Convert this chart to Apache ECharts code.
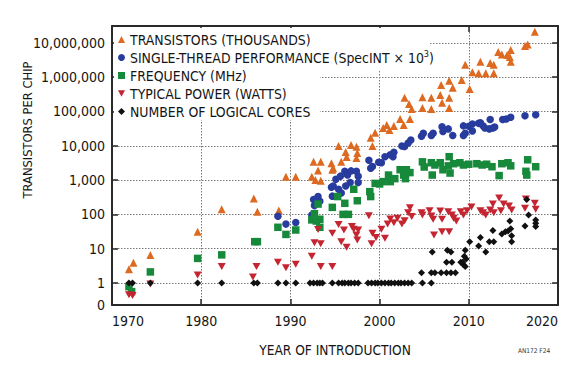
<!DOCTYPE html>
<html><head><meta charset="utf-8">
<script src="https://cdn.jsdelivr.net/npm/echarts@6/dist/echarts.min.js"></script>
<style>html,body{margin:0;padding:0;background:#fff}#c{width:575px;height:372px}</style>
</head><body><div id="c"></div>
<script>
const FONT = "'DejaVu Sans Condensed','Liberation Sans',sans-serif";
const xTicks = [1970, 1980, 1990, 2000, 2010, 2020];
const yTicks = [1, 10, 100, 1000, 10000, 100000, 1000000, 10000000];
const yMin = 0.228, yMax = 3.1e7;
const seriesNames = ['TRANSISTORS (THOUSANDS)', 'SINGLE-THREAD PERFORMANCE (SpecINT × 10³)', 'FREQUENCY (MHz)', 'TYPICAL POWER (WATTS)', 'NUMBER OF LOGICAL CORES'];

const transistors = [[1971.9,2.5],[1972.4,3.9],[1974.3,6.5],[1979.6,31],[1982.3,140],[1985.9,290],[1986.3,120],[1988.7,130],[1989.5,1250],[1990.6,1250],[1992.4,1250],[1992.6,3400],[1993.4,3400],[1993.1,1900],[1992.8,1000],[1993.4,950],[1994.6,3100],[1994.7,2000],[1994.8,2200],[1995.7,3400],[1996.3,4700],[1997.4,4400],[1995.4,9800],[1996.8,10500],[1996.2,6600],[1997.4,9300],[1997.5,6200],[1999.2,9800],[1999.0,17000],[1999.5,24000],[2000.4,33000],[2000.8,40000],[2001.1,29000],[2001.6,38000],[2002.3,60000],[2002.7,40000],[2003.4,60000],[2002.8,250000],[2003.3,165000],[2003.6,117000],[2004.8,260000],[2004.8,126000],[2005.8,250000],[2005.8,117000],[2006.9,590000],[2006.8,300000],[2007.0,180000],[2007.8,780000],[2007.8,250000],[2007.8,126000],[2008.2,490000],[2009.2,830000],[2010.1,450000],[2009.6,2300000],[2010.4,1400000],[2011.3,2800000],[2011.1,1300000],[2011.9,1300000],[2012.4,2600000],[2012.8,1300000],[2012.8,2300000],[2013.3,5400000],[2013.7,4600000],[2014.3,4400000],[2014.7,6200000],[2014.6,3900000],[2014.7,2800000],[2016.3,8100000],[2016.6,9000000],[2017.4,21000000]];

const singleThread = [[1988.6,88],[1989.5,52],[1990.6,58],[1992.4,96],[1992.7,180],[1992.6,270],[1993.1,330],[1993.3,240],[1993.0,290],[1994.6,620],[1994.7,340],[1994.8,670],[1995.7,420],[1995.4,540],[1995.1,1050],[1995.6,1300],[1996.1,1800],[1996.4,1400],[1996.8,1850],[1997.4,1800],[1997.6,1300],[1997.6,850],[1996.7,850],[1996.2,670],[1998.8,3800],[1999.2,2500],[1999.0,2200],[1999.9,3300],[2000.2,3200],[2000.6,4800],[2001.2,5500],[2001.6,6500],[2001.5,4800],[2002.5,9800],[2002.8,9500],[2003.2,12000],[2003.5,14700],[2004.7,19000],[2004.9,23000],[2005.8,20000],[2006.0,23000],[2007.0,36000],[2007.1,26000],[2007.7,31000],[2008.2,20000],[2009.4,38000],[2009.4,20000],[2009.6,23000],[2010.0,37000],[2010.4,43000],[2010.4,27000],[2011.3,47000],[2011.1,45000],[2011.6,38000],[2011.8,33000],[2012.3,31000],[2012.7,33000],[2012.9,35000],[2012.4,58000],[2013.8,58000],[2014.2,60000],[2014.7,68000],[2016.3,75000],[2017.5,80000]];

const frequency = [[1971.9,0.78],[1972.2,0.56],[1974.3,2.1],[1979.6,5.2],[1982.3,6.6],[1986.0,16],[1986.3,16],[1988.6,42],[1989.5,26],[1990.6,35],[1992.4,69],[1992.7,105],[1992.9,64],[1993.3,72],[1993.3,42],[1993.1,200],[1994.7,160],[1995.3,330],[1996.1,210],[1995.9,100],[1996.5,100],[1997.1,540],[1997.5,250],[1998.9,460],[1999.0,330],[1999.5,800],[2000.0,770],[2000.4,900],[2001.0,1400],[2001.2,900],[2001.7,1100],[2002.3,2000],[2002.7,1400],[2003.0,2000],[2002.9,1100],[2003.4,1650],[2004.8,3400],[2005.0,2400],[2005.9,1400],[2005.8,3200],[2006.2,2750],[2006.8,3200],[2007.1,2000],[2007.8,4800],[2007.7,2600],[2007.9,1600],[2008.3,3000],[2009.0,3200],[2009.4,2750],[2010.0,2900],[2010.9,3000],[2011.5,2750],[2012.0,2900],[2012.6,2450],[2013.4,1350],[2013.7,3000],[2014.4,3200],[2014.7,2600],[2016.6,3900],[2016.4,1800],[2016.5,1400],[2017.5,2450]];

const power = [[1971.9,0.45],[1972.3,0.43],[1974.3,0.93],[1979.6,1.7],[1982.3,3.0],[1985.8,1.5],[1986.2,3.0],[1988.6,4.0],[1989.5,2.8],[1990.6,3.5],[1992.4,6.0],[1992.7,15],[1993.4,14],[1993.1,36],[1993.4,3.0],[1994.7,3.0],[1994.7,28],[1995.4,51],[1995.7,16],[1996.0,35],[1996.3,11],[1996.9,44],[1997.1,37],[1997.6,35],[1997.5,18],[1997.4,25],[1998.8,91],[1999.2,28],[1999.1,14],[1999.6,21],[2000.2,37],[2000.6,20],[2000.9,52],[2001.2,73],[2001.6,57],[2002.0,77],[2002.5,52],[2002.8,65],[2003.2,112],[2003.4,156],[2003.6,86],[2004.7,112],[2004.8,96],[2005.6,128],[2005.8,90],[2006.0,72],[2006.1,25],[2006.8,125],[2007.0,72],[2007.0,31],[2007.8,31],[2007.7,120],[2008.1,96],[2008.3,77],[2008.6,64],[2009.1,120],[2009.4,96],[2009.8,128],[2010.3,165],[2011.3,128],[2011.6,112],[2011.9,96],[2012.4,135],[2012.7,200],[2012.8,112],[2013.4,300],[2013.6,128],[2013.9,200],[2014.5,175],[2014.8,135],[2016.4,280],[2016.3,150],[2017.4,210],[2017.5,140]];

const cores = [[1971.9,1],[1972.3,1],[1974.3,1],[1979.6,1],[1982.3,1],[1985.9,1],[1986.3,1],[1988.6,1],[1989.5,1],[1990.6,1],[1992.2,1],[1992.6,1],[1993.0,1],[1993.3,1],[1993.6,1],[1994.7,1],[1995.4,1],[1995.8,1],[1996.1,1],[1996.5,1],[1996.8,1],[1997.2,1],[1997.6,1],[1998.7,1],[1999.1,1],[1999.5,1],[1999.8,1],[2000.2,1],[2000.6,1],[2001.0,1],[2001.3,1],[2001.7,1],[2002.1,1],[2002.4,1],[2002.8,1],[2003.2,1],[2003.6,1],[2004.8,1],[2005.8,1],[2004.7,2],[2005.8,2],[2006.2,2],[2006.9,2],[2007.5,2],[2008.0,2],[2008.5,2],[2005.9,8],[2007.6,9],[2008.0,8],[2007.5,4],[2008.1,4],[2009.1,4],[2009.4,3.4],[2009.3,4],[2009.5,6],[2009.6,9],[2009.6,3],[2009.7,5],[2010.1,16],[2011.3,21],[2011.1,12],[2011.9,8],[2012.3,16],[2012.8,16],[2012.7,34],[2013.7,27],[2014.1,31],[2014.4,33],[2014.6,64],[2014.7,38],[2014.8,24],[2014.8,16],[2016.3,46],[2016.5,272],[2016.7,96],[2017.5,68],[2017.5,55],[2017.5,44]];

const colors = ['#DD6A20', '#283C9E', '#17893B', '#C42530', '#111111'];
const fmtY = v => v < 0.9 ? '0' : String(Math.round(v)).replace(/\B(?=(\d{3})+(?!\d))/g, ',');
const grid = { left: 112, right: 17, top: 26, bottom: 67 };
const axisLine = { show: true, onZero: false, lineStyle: { color: '#2a2a2a', width: 2 } };
const tickIn = { show: true, inside: true, length: 6, lineStyle: { color: '#2a2a2a', width: 1.5 } };
const dotted = { show: true, lineStyle: { color: '#7a7a7a', width: 1, type: [1.5, 1.5] } };
const TXT = '#151515';

const chart = echarts.init(document.getElementById('c'), null, { renderer: 'svg' });
chart.setOption({
  animation: false,
  backgroundColor: '#fff',
  grid: grid,
  legend: {
    orient: 'vertical', left: 113, top: 26, itemGap: 1, itemWidth: 7, itemHeight: 7, itemTextGap: 6, z: 10,
    data: seriesNames,
    formatter: n => n === seriesNames[1] ? '{t|SINGLE-THREAD PERFORMANCE (SpecINT × 10}{s|3}{t|)}' : n,
    textStyle: { fontFamily: FONT, fontSize: 13.9, color: TXT, lineHeight: 17,
      rich: { t: { fontFamily: FONT, fontSize: 13.9, color: TXT, lineHeight: 17 },
              s: { fontFamily: FONT, fontSize: 9, color: TXT, lineHeight: 17, verticalAlign: 'top', padding: [0, 0, 6, 0] } } }
  },
  graphic: [
    { type: 'rect', z: 1, silent: true, shape: { x: 114, y: 28, width: 316, height: 42 }, style: { fill: '#fff' } },
    { type: 'rect', z: 1, silent: true, shape: { x: 114, y: 70, width: 206, height: 50 }, style: { fill: '#fff' } },
    { type: 'text', z: 5, x: 27.5, y: 130, rotation: Math.PI / 2, silent: true,
      style: { text: 'TRANSISTORS PER CHIP', fontFamily: FONT, fontSize: 12.8, fill: TXT, align: 'center', verticalAlign: 'middle' } },
    { type: 'text', z: 5, x: 534, y: 351, silent: true,
      style: { text: 'AN172 F24', fontFamily: FONT, fontSize: 6.5, fill: '#333', align: 'center', verticalAlign: 'middle' } }
  ],
  xAxis: [
    { type: 'value', min: xTicks[0], max: xTicks[xTicks.length - 1], interval: 10, position: 'bottom',
      name: 'YEAR OF INTRODUCTION', nameLocation: 'middle', nameGap: 38,
      nameTextStyle: { fontFamily: FONT, fontSize: 13.6, color: TXT },
      axisLine: axisLine, axisTick: tickIn, splitLine: dotted,
      axisLabel: { fontFamily: FONT, fontSize: 14, color: TXT, margin: 9, formatter: v => String(v), alignMinLabel: 'left', alignMaxLabel: 'right' } },
    { type: 'value', min: xTicks[0], max: xTicks[xTicks.length - 1], interval: 10, position: 'top',
      axisLine: axisLine, axisTick: tickIn, splitLine: { show: false }, axisLabel: { show: false } }
  ],
  yAxis: [
    { type: 'log', logBase: 10, min: yMin, max: yMax, position: 'left',
      axisLine: axisLine,
      axisTick: Object.assign({ customValues: yTicks }, tickIn),
      splitLine: dotted,
      axisLabel: { fontFamily: FONT, fontSize: 14, color: TXT, margin: 7, customValues: [yMin].concat(yTicks), formatter: fmtY } },
    { type: 'log', logBase: 10, min: yMin, max: yMax, position: 'right',
      axisLine: axisLine,
      axisTick: Object.assign({ customValues: yTicks }, tickIn),
      splitLine: { show: false }, axisLabel: { show: false } }
  ],
  series: [
    { name: seriesNames[0], type: 'scatter', data: transistors, symbol: 'triangle', symbolSize: 8, itemStyle: { color: colors[0], opacity: 1 }, z: 3 },
    { name: seriesNames[1], type: 'scatter', data: singleThread, symbol: 'circle', symbolSize: 7.5, itemStyle: { color: colors[1], opacity: 1 }, z: 3 },
    { name: seriesNames[2], type: 'scatter', data: frequency, symbol: 'rect', symbolSize: 7.5, itemStyle: { color: colors[2], opacity: 1 }, z: 3 },
    { name: seriesNames[3], type: 'scatter', data: power, symbol: 'path://M0,0L10,0L5,9Z', symbolSize: [8, 7], itemStyle: { color: colors[3], opacity: 1 }, z: 3 },
    { name: seriesNames[4], type: 'scatter', data: cores, symbol: 'diamond', symbolSize: 7, itemStyle: { color: colors[4], opacity: 1 }, z: 3 }
  ]
});
</script></body></html>
